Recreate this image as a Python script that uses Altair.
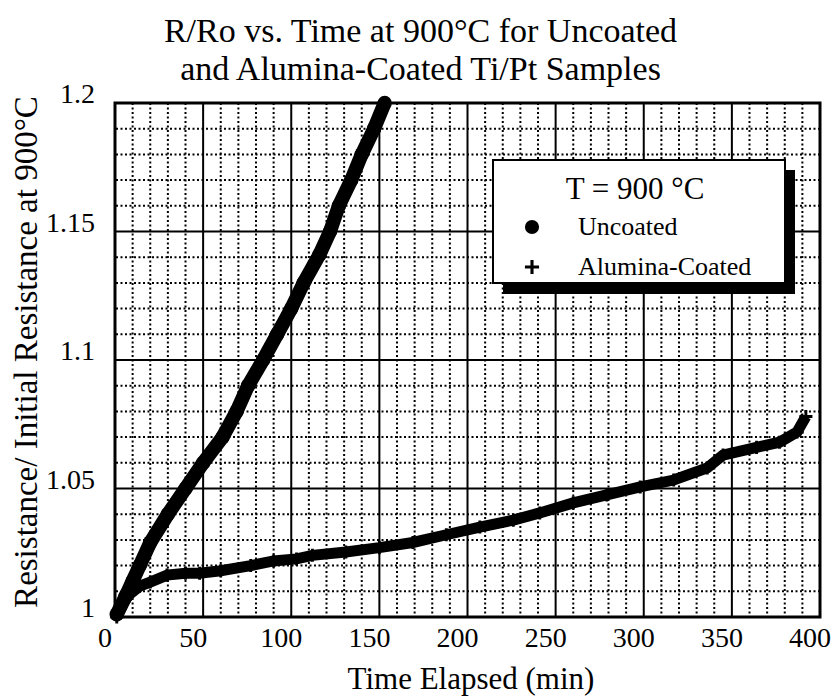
import altair as alt
import pandas as pd

# ---- data ----
uncoated_t = [1, 6, 10, 14, 20, 30, 40, 50, 61, 69, 75.5, 84, 92, 100, 107, 116, 122, 127, 134, 140, 147, 153]
uncoated_r = [1.001, 1.008, 1.014, 1.020, 1.029, 1.040, 1.050, 1.060, 1.070, 1.080, 1.090, 1.100,
              1.110, 1.120, 1.130, 1.141, 1.150, 1.160, 1.170, 1.180, 1.190, 1.200]

coated_t = [1, 5, 8.5, 14, 20, 29.5, 40, 48, 60, 77, 90, 103, 112, 131, 150, 169, 188, 207, 226,
            241, 260, 279, 298, 317, 336, 345, 364, 377, 387, 392]
coated_r = [1.000, 1.006, 1.009, 1.012, 1.0136, 1.0163, 1.017, 1.017, 1.018, 1.020, 1.0218, 1.0226,
            1.024, 1.0253, 1.027, 1.029, 1.032, 1.035, 1.0377, 1.0405, 1.0444, 1.0475, 1.0506,
            1.0533, 1.058, 1.063, 1.066, 1.068, 1.072, 1.078]

series_names = ["Uncoated", "Alumina-Coated"]
x_major = [50, 100, 150, 200, 250, 300, 350]
x_minor = [v for v in range(10, 400, 10) if v % 50 != 0]
y_major = [1.05, 1.10, 1.15]
y_minor = [round(1 + i / 100, 2) for i in range(1, 20) if i % 5 != 0]
x_ticks = [0, 50, 100, 150, 200, 250, 300, 350, 400]
y_ticks = [1.0, 1.05, 1.1, 1.15, 1.2]

FONT = "Liberation Serif"
PLUS = "M-1,-0.22H1V0.22H-1Z M-0.22,-1H0.22V1H-0.22Z"

df = pd.DataFrame({
    "t": uncoated_t + coated_t,
    "r": uncoated_r + coated_r,
    "series": [series_names[0]] * len(uncoated_t) + [series_names[1]] * len(coated_t),
})

xs = alt.Scale(domain=[0, 400], nice=False, zero=False)
ys = alt.Scale(domain=[1.0, 1.2], nice=False, zero=False)

x_enc = alt.X("t:Q", scale=xs, title="Time Elapsed (min)",
              axis=alt.Axis(values=x_ticks, labelPadding=18, titlePadding=12,
                            labelFlush=False, translate=-10, titleX=366))
y_enc = alt.Y("r:Q", scale=ys, title="Resistance/ Initial Resistance at 900°C",
              axis=alt.Axis(values=y_ticks, format="~g", labelPadding=12, titlePadding=2,
                            translate=-8, titleFontSize=33))

dots = dict(color="black", strokeWidth=2, strokeDash=[2, 2.5])
minor_v = alt.Chart(pd.DataFrame({"v": x_minor})).mark_rule(**dots).encode(x=alt.X("v:Q", scale=xs))
minor_h = alt.Chart(pd.DataFrame({"v": y_minor})).mark_rule(**dots).encode(y=alt.Y("v:Q", scale=ys))
major_v = alt.Chart(pd.DataFrame({"v": x_major})).mark_rule(
    color="black", strokeWidth=2).encode(x=alt.X("v:Q", scale=xs))
major_h = alt.Chart(pd.DataFrame({"v": y_major})).mark_rule(
    color="black", strokeWidth=2).encode(y=alt.Y("v:Q", scale=ys))

shape_enc = alt.Shape("series:N", scale=alt.Scale(domain=series_names, range=["circle", PLUS]),
                      title="T = 900 °C")

base = alt.Chart(df)
u = base.transform_filter(alt.datum.series == "Uncoated")
c = base.transform_filter(alt.datum.series == "Alumina-Coated")
line_u = u.mark_line(color="black", strokeWidth=14, clip=False).encode(x=x_enc, y=y_enc)
line_c = c.mark_line(color="black", strokeWidth=11, clip=False).encode(x=x_enc, y=y_enc)
pts_u = u.mark_point(filled=True, color="black", size=210, opacity=1, clip=False).encode(
    x=x_enc, y=y_enc, shape=shape_enc)
pts_c = c.mark_point(filled=True, color="black", size=170, opacity=1, clip=False).encode(
    x=x_enc, y=y_enc, shape=shape_enc)

box_df = pd.DataFrame({"k": [0]})
shadow = alt.Chart(box_df).mark_rect(color="black").encode(
    x=alt.value(388), x2=alt.value(680), y=alt.value(67), y2=alt.value(191))
box = alt.Chart(box_df).mark_rect(fill="white", stroke="black", strokeWidth=2).encode(
    x=alt.value(378), x2=alt.value(670), y=alt.value(57), y2=alt.value(180))

chart = alt.layer(minor_v, minor_h, major_v, major_h, line_u, line_c, pts_u, pts_c,
                  shadow, box).properties(
    width=705, height=514,
    title=alt.TitleParams(
        text=["R/Ro vs. Time at 900°C for Uncoated", "and Alumina-Coated Ti/Pt Samples"],
        font=FONT, fontSize=34, fontWeight="normal", color="black",
        anchor="middle", offset=14, lineHeight=38, dx=-47, dy=26),
    autosize=alt.AutoSizeParams(type="none"),
    padding={"left": 107, "top": 95, "right": 11, "bottom": 85},
).configure_view(stroke="black", strokeWidth=3).configure_axis(
    labelFont=FONT, labelFontSize=28, labelColor="black",
    titleFont=FONT, titleFontSize=31, titleFontWeight="normal", titleColor="black",
    ticks=False, domain=False, grid=False,
).configure_legend(
    orient="none", legendX=404, legendY=72,
    titleFont=FONT, titleFontSize=31, titleFontWeight="normal", titleColor="black",
    titleAnchor="middle", titlePadding=8,
    labelFont=FONT, labelFontSize=26, labelColor="black", labelOffset=33, labelLimit=400,
    symbolSize=200, symbolFillColor="black", symbolStrokeColor="black", symbolStrokeWidth=0,
    rowPadding=14, padding=0, symbolOffset=0,
)

chart.save("out.html", embed_options={"renderer": "svg", "actions": False})
